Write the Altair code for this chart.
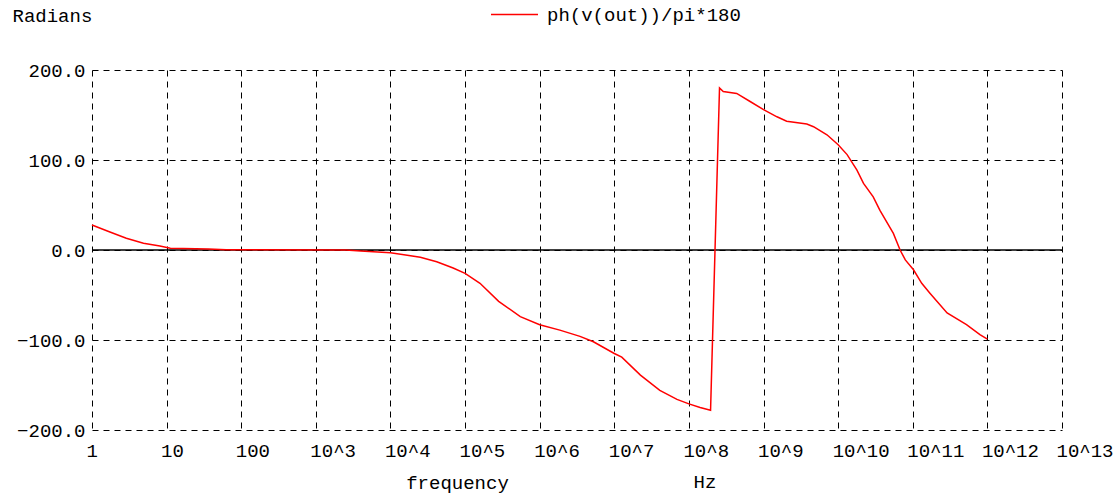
import altair as alt
import pandas as pd

# Frequency exponents (log10 Hz) and phase values
freq_exp = [0, 0.24, 0.46, 0.69, 0.91, 1.05, 1.56, 1.8, 3.4, 3.6,
            4.0, 4.4, 4.62, 4.84, 5.0, 5.2, 5.45, 5.74, 6.0, 6.27,
            6.54, 6.72, 7.0, 7.1, 7.35, 7.61, 7.84, 8.0, 8.15, 8.29,
            8.41, 8.46, 8.64, 8.82, 9.0, 9.18, 9.31, 9.58, 9.67, 9.85,
            10.0, 10.12, 10.25, 10.34, 10.47, 10.56, 10.74, 10.83, 10.9, 11.01,
            11.12, 11.23, 11.46, 11.72, 11.9, 12.0]
phase = [27.8, 20, 13, 7.4, 4.4, 1.9, 1.1, 0.3, 0, -1,
         -3, -8, -13, -20, -26, -37, -57, -74, -83, -89,
         -96, -102, -115, -119, -139, -156, -166, -171, -175, -178,
         180, 176, 174, 165, 156, 148, 143, 140, 137, 128,
         117, 106, 89, 74, 59, 44, 18.5, 0, -11, -22,
         -37, -48, -70, -83, -94, -99]
series_name = "ph(v(out))/pi*180"
x_ticks = [10 ** k for k in range(14)]
y_ticks = [-200, -100, 0, 100, 200]

FONT = "Liberation Mono"
FS = 19

df = pd.DataFrame({
    "f": [10 ** e for e in freq_exp],
    "v": phase,
    "series": series_name,
})

xscale = alt.Scale(type="log", domain=[1, 1e13], nice=False)
yscale = alt.Scale(domain=[-200, 200], nice=False)

line = alt.Chart(df).mark_line(strokeWidth=1.5, clip=False).encode(
    x=alt.X("f:Q", scale=xscale,
            axis=alt.Axis(values=x_ticks, grid=True, gridDash=[6, 5], gridColor="black",
                          gridOpacity=1, gridWidth=1, domain=False, ticks=False,
                          labelFont=FONT, labelFontSize=FS, labelColor="black",
                          labelAlign="left", labelOffset=-6, labelPadding=11,
                          labelBaseline="top", labelFlush=False, labelOverlap=False,
                          labelExpr="datum.value == 1 ? '1' : datum.value == 10 ? '10' : datum.value == 100 ? '100' : '10^' + round(log(datum.value)/LN10)",
                          title="frequency", titleFont=FONT, titleFontSize=FS,
                          titleFontWeight="normal", titleColor="black",
                          titleX=365, titleY=52, titleAlign="center", titleBaseline="middle")),
    y=alt.Y("v:Q", scale=yscale,
            axis=alt.Axis(values=y_ticks, grid=True, gridDash=[6, 5], gridColor="black",
                          gridOpacity=1, gridWidth=1, domain=False, ticks=False,
                          labelFont=FONT, labelFontSize=FS, labelColor="black",
                          labelPadding=7, format=".1f", labelFlush=False, labelOverlap=False,
                          title="Radians", titleFont=FONT, titleFontSize=FS,
                          titleFontWeight="normal", titleColor="black", titleAngle=0,
                          titleX=-80, titleY=-55, titleAlign="left", titleBaseline="middle")),
    color=alt.Color("series:N", scale=alt.Scale(range=["#ff0000"]),
                    legend=alt.Legend(orient="none", legendX=398, legendY=-80, title=None,
                                      symbolType="stroke", symbolSize=2209, symbolStrokeWidth=1.5,
                                      labelFont=FONT, labelFontSize=FS, labelColor="black",
                                      labelOffset=8, labelLimit=0)),
)

zero = alt.Chart(pd.DataFrame({"y": [0]})).mark_rule(color="black", strokeWidth=1.5).encode(
    y=alt.Y("y:Q", scale=yscale)
)

hz = alt.Chart(pd.DataFrame({"t": ["Hz"]})).mark_text(
    font=FONT, fontSize=FS, color="black", align="center", baseline="middle"
).encode(x=alt.value(613), y=alt.value(412), text="t:N")

chart = alt.layer(zero, line, hz).properties(
    width=970, height=360,
    autosize=alt.AutoSizeParams(type="none"),
    padding={"left": 92, "top": 70, "right": 56, "bottom": 63},
    background="white",
).configure_view(stroke=None)

chart.save("out.html", embed_options={"renderer": "svg", "actions": False})
